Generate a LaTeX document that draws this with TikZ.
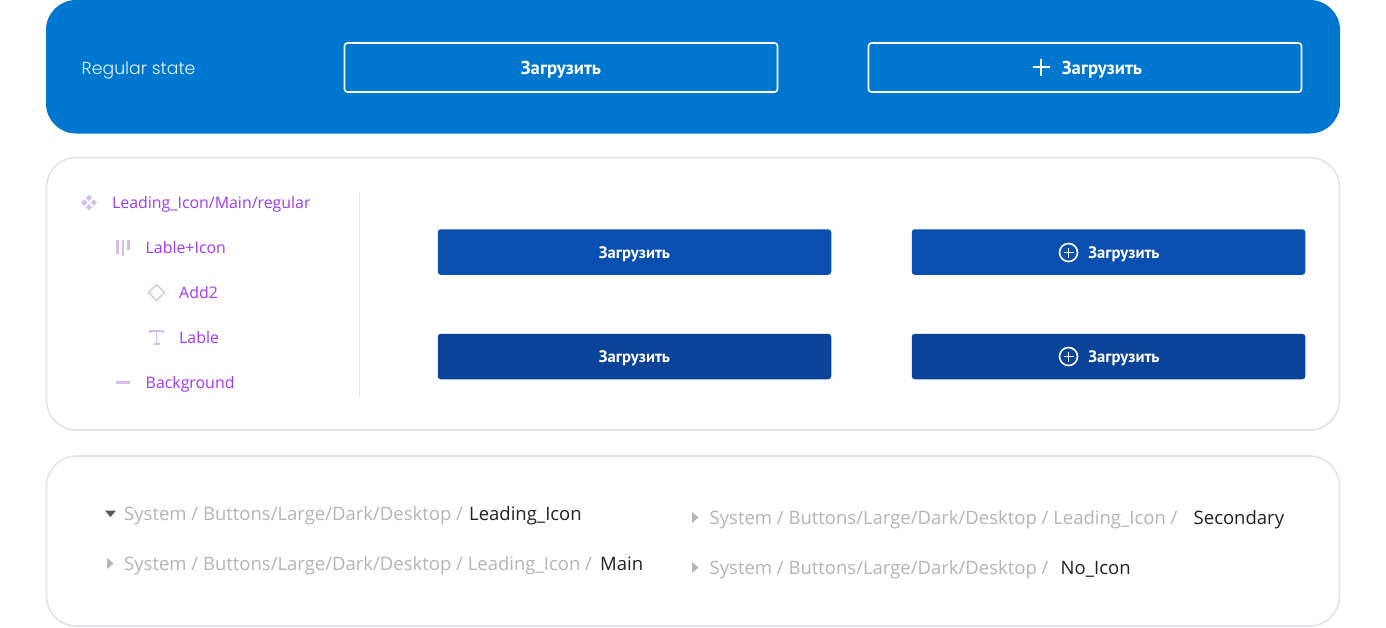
\documentclass[tikz,border=0pt]{standalone}
\usepackage{fontspec}
\setmainfont{Open Sans}
\newfontfamily\ptb{PT Sans}
\newfontfamily\popp[UprightFont=*-Light]{Poppins}
\definecolor{bluetop}{HTML}{0077CF}
\definecolor{btnA}{HTML}{0A4FAF}
\definecolor{btnB}{HTML}{0A4397}
\definecolor{edge}{HTML}{E3E3EC}
\definecolor{purp}{HTML}{A239F5}
\definecolor{lilac}{HTML}{D6BFEA}
\definecolor{greytx}{HTML}{B5B5B5}
\definecolor{darktx}{HTML}{222222}
\definecolor{palewhite}{HTML}{E6F3FC}
\tikzset{
 x=1pt,y=-1pt,
 card/.style={draw=edge,line width=1.6pt,fill=white,rounded corners=30pt},
 outlinebtn/.style={draw=white,line width=1.6pt,fill=bluetop,rounded corners=3pt,minimum width=433pt,minimum height=49pt,inner sep=0pt},
 fillbtn/.style={rounded corners=3pt,minimum width=393.5pt,minimum height=45.5pt,inner sep=0pt},
 btntext/.style={text=white,inner sep=0pt,font=\ptb\bfseries\fontsize{18.7}{20}\selectfont},
 btntextb/.style={text=white,inner sep=0pt,font=\ptb\bfseries\fontsize{16.6}{18}\selectfont},
 layer/.style={text=purp,anchor=base west,inner sep=0pt,font=\fontsize{15.9}{18}\selectfont},
 crumb/.style={anchor=base west,inner sep=0pt,font=\fontsize{18.5}{22}\selectfont},
 ico/.style={draw=lilac,line width=1.4pt},
 circplus/.style={circle,draw=white,line width=1.6pt,minimum size=18pt,inner sep=0pt},
 plusline/.style={draw=white,line width=1.5pt},
}
\begin{document}
\begin{tikzpicture}
\useasboundingbox (0,0) rectangle (1386,627);
\fill[white] (0,0) rectangle (1386,627);
% top band
\fill[bluetop,rounded corners=30pt] (46,0) rectangle (1340,133.5);
\node[anchor=base west,inner sep=0pt,text=palewhite,font=\popp\fontsize{17.3}{20}\selectfont] (regular) at (81.5,74) {Regular state};
\node[outlinebtn] (top1) at (561,67.5) {};
\node[outlinebtn] (top2) at (1085,67.5) {};
\node[btntext] (top1t) at (561,70) {Загрузить};
\node[btntext] (top2t) at (1102,70) {Загрузить};
\coordinate (plusc) at (1041,67);
\draw[plusline] ([xshift=-8.5pt]plusc) -- ([xshift=8.5pt]plusc);
\draw[plusline] ([yshift=-8.5pt]plusc) -- ([yshift=8.5pt]plusc);
% middle card
\draw[card] (46.5,157.5) rectangle (1339.5,430);
\draw[edge,line width=1pt] (359.5,192) -- (359.5,396);
% layer icons
\foreach \dx/\dy in {0/-4.7,-4.7/0,4.7/0,0/4.7}
  \fill[lilac] (89+\dx-3.2,202.5+\dy) -- ++(3.2,-3.2) -- ++(3.2,3.2) -- ++(-3.2,3.2) -- cycle;
\fill[lilac] (116,240) rectangle (119,254);
\fill[lilac] (122,240) rectangle (124,256);
\fill[lilac] (127,240) rectangle (130,250);
\draw[ico] (156.5,284.5) -- (164.5,292.5) -- (156.5,300.5) -- (148.5,292.5) -- cycle;
\draw[lilac,line width=1.1pt] (150,333) -- (150,331) -- (163,331) -- (163,333);
\draw[lilac,line width=1.1pt] (156.5,331) -- (156.5,344) (153.5,344) -- (159.5,344);
\fill[lilac] (116,381) rectangle (130,383.5);
\node[layer] (l1) at (112,208) {Leading\_Icon/Main/regular};
\node[layer] (l2) at (145.5,253) {Lable+Icon};
\node[layer] (l3) at (179,298) {Add2};
\node[layer] (l4) at (179,343) {Lable};
\node[layer] (l5) at (145.5,388) {Background};
% filled buttons
\node[fillbtn,fill=btnA] (b1) at (634.5,252) {};
\node[fillbtn,fill=btnA] (b2) at (1108.5,252) {};
\node[fillbtn,fill=btnB] (b3) at (634.5,356.5) {};
\node[fillbtn,fill=btnB] (b4) at (1108.5,356.5) {};
\node[btntextb] (b1t) at (634.5,254) {Загрузить};
\node[btntextb] (b3t) at (634.5,358.5) {Загрузить};
\node[btntextb] (b2t) at (1124,254) {Загрузить};
\node[btntextb] (b4t) at (1124,358.5) {Загрузить};
\node[circplus] (p2) at (1068.5,252.5) {};
\node[circplus] (p4) at (1068.5,356.5) {};
\draw[white,line width=1.5pt] ([xshift=-5pt]p2.center) -- ([xshift=5pt]p2.center) ([yshift=-5pt]p2.center) -- ([yshift=5pt]p2.center);
\draw[white,line width=1.5pt] ([xshift=-5pt]p4.center) -- ([xshift=5pt]p4.center) ([yshift=-5pt]p4.center) -- ([yshift=5pt]p4.center);
% bottom card
\draw[card] (46.5,456) rectangle (1339.5,626);
\fill[darktx!75] (105,510.5) -- (116,510.5) -- (110.5,517) -- cycle;
\fill[greytx] (107,558) -- (113.5,563.5) -- (107,569) -- cycle;
\fill[greytx] (692,512) -- (698.5,517.5) -- (692,523) -- cycle;
\fill[greytx] (692,562) -- (698.5,567.5) -- (692,573) -- cycle;
\node[crumb,text=greytx] (c1) at (124,520) {System / Buttons/Large/Dark/Desktop /};
\node[crumb,text=darktx] (c1b) at (469,520) {Leading\_Icon};
\node[crumb,text=greytx] (c2) at (124,570) {System / Buttons/Large/Dark/Desktop / Leading\_Icon /};
\node[crumb,text=darktx] (c2b) at (600,570) {Main};
\node[crumb,text=greytx] (c3) at (709.5,524) {System / Buttons/Large/Dark/Desktop / Leading\_Icon /};
\node[crumb,text=darktx] (c3b) at (1193.5,524) {Secondary};
\node[crumb,text=greytx] (c4) at (709.5,574) {System / Buttons/Large/Dark/Desktop /};
\node[crumb,text=darktx] (c4b) at (1060.5,574) {No\_Icon};
\end{tikzpicture}
\end{document}
